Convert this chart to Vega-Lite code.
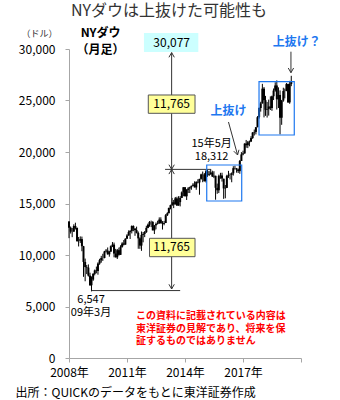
{
  "$schema": "https://vega.github.io/schema/vega-lite/v6.json",
  "width": 232,
  "height": 309,
  "autosize": "none",
  "padding": {"left": 69, "top": 49, "right": 39, "bottom": 42},
  "background": "white",
  "title": {"text": "NYダウは上抜けた可能性も", "fontSize": 16, "fontWeight": "normal", "color": "#333333", "font": "Noto Sans CJK JP", "anchor": "middle", "frame": "group", "offset": 0, "baseline": "middle", "dx": -16},
  "config": {
    "view": {"stroke": null},
    "axis": {"grid": false, "domainColor": "#a6a6a6", "tickColor": "#a6a6a6", "labelColor": "#000000", "labelFont": "Noto Sans CJK JP", "labelFontSize": 12, "titleFont": "Noto Sans CJK JP", "titleColor": "#000000", "titleFontWeight": "normal", "tickSize": 4},
    "text": {"font": "Noto Sans CJK JP"}
  },
  "layer": [
    {
      "data": {"values": [
        {"d":"2008-01-01","o":13262,"h":13279,"l":11635,"c":12650},
        {"d":"2008-02-01","o":12650,"h":12767,"l":12082,"c":12266},
        {"d":"2008-03-01","o":12266,"h":12622,"l":11731,"c":12263},
        {"d":"2008-04-01","o":12263,"h":12983,"l":12263,"c":12820},
        {"d":"2008-05-01","o":12820,"h":13136,"l":12479,"c":12638},
        {"d":"2008-06-01","o":12638,"h":12657,"l":11288,"c":11350},
        {"d":"2008-07-01","o":11350,"h":11746,"l":10827,"c":11378},
        {"d":"2008-08-01","o":11378,"h":11808,"l":11172,"c":11544},
        {"d":"2008-09-01","o":11544,"h":11790,"l":10365,"c":10851},
        {"d":"2008-10-01","o":10851,"h":10882,"l":7882,"c":9325},
        {"d":"2008-11-01","o":9325,"h":9654,"l":7449,"c":8829},
        {"d":"2008-12-01","o":8829,"h":9026,"l":8149,"c":8776},
        {"d":"2009-01-01","o":8776,"h":9088,"l":7909,"c":8001},
        {"d":"2009-02-01","o":8001,"h":8280,"l":7007,"c":7063},
        {"d":"2009-03-01","o":7063,"h":7924,"l":6470,"c":7609},
        {"d":"2009-04-01","o":7609,"h":8242,"l":7491,"c":8168},
        {"d":"2009-05-01","o":8168,"h":8588,"l":8025,"c":8500},
        {"d":"2009-06-01","o":8500,"h":8877,"l":8221,"c":8447},
        {"d":"2009-07-01","o":8447,"h":9286,"l":8087,"c":9172},
        {"d":"2009-08-01","o":9172,"h":9630,"l":9050,"c":9496},
        {"d":"2009-09-01","o":9496,"h":9917,"l":9253,"c":9712},
        {"d":"2009-10-01","o":9712,"h":10119,"l":9430,"c":9713},
        {"d":"2009-11-01","o":9713,"h":10406,"l":9678,"c":10345},
        {"d":"2009-12-01","o":10345,"h":10580,"l":10236,"c":10428},
        {"d":"2010-01-01","o":10428,"h":10730,"l":10036,"c":10067},
        {"d":"2010-02-01","o":10067,"h":10402,"l":9835,"c":10325},
        {"d":"2010-03-01","o":10325,"h":10928,"l":10301,"c":10857},
        {"d":"2010-04-01","o":10857,"h":11258,"l":10768,"c":11009},
        {"d":"2010-05-01","o":11009,"h":11205,"l":9774,"c":10137},
        {"d":"2010-06-01","o":10137,"h":10594,"l":9758,"c":9774},
        {"d":"2010-07-01","o":9774,"h":10585,"l":9614,"c":10466},
        {"d":"2010-08-01","o":10466,"h":10720,"l":9936,"c":10015},
        {"d":"2010-09-01","o":10015,"h":10948,"l":10012,"c":10788},
        {"d":"2010-10-01","o":10788,"h":11245,"l":10712,"c":11118},
        {"d":"2010-11-01","o":11118,"h":11451,"l":10929,"c":11006},
        {"d":"2010-12-01","o":11006,"h":11625,"l":11004,"c":11578},
        {"d":"2011-01-01","o":11578,"h":12020,"l":11577,"c":11892},
        {"d":"2011-02-01","o":11892,"h":12391,"l":11871,"c":12226},
        {"d":"2011-03-01","o":12226,"h":12419,"l":11555,"c":12320},
        {"d":"2011-04-01","o":12320,"h":12876,"l":12093,"c":12811},
        {"d":"2011-05-01","o":12811,"h":12877,"l":12309,"c":12570},
        {"d":"2011-06-01","o":12570,"h":12600,"l":11862,"c":12414},
        {"d":"2011-07-01","o":12414,"h":12753,"l":12093,"c":12143},
        {"d":"2011-08-01","o":12143,"h":12284,"l":10604,"c":11614},
        {"d":"2011-09-01","o":11614,"h":11717,"l":10597,"c":10913},
        {"d":"2011-10-01","o":10913,"h":12284,"l":10404,"c":11955},
        {"d":"2011-11-01","o":11955,"h":12237,"l":11231,"c":12046},
        {"d":"2011-12-01","o":12046,"h":12328,"l":11735,"c":12218},
        {"d":"2012-01-01","o":12218,"h":12842,"l":12150,"c":12633},
        {"d":"2012-02-01","o":12633,"h":13056,"l":12600,"c":12952},
        {"d":"2012-03-01","o":12952,"h":13290,"l":12742,"c":13212},
        {"d":"2012-04-01","o":13212,"h":13338,"l":12710,"c":13214},
        {"d":"2012-05-01","o":13214,"h":13280,"l":12391,"c":12393},
        {"d":"2012-06-01","o":12393,"h":12900,"l":12035,"c":12880},
        {"d":"2012-07-01","o":12880,"h":13159,"l":12492,"c":13009},
        {"d":"2012-08-01","o":13009,"h":13330,"l":12956,"c":13091},
        {"d":"2012-09-01","o":13091,"h":13653,"l":13013,"c":13437},
        {"d":"2012-10-01","o":13437,"h":13661,"l":13046,"c":13096},
        {"d":"2012-11-01","o":13096,"h":13289,"l":12471,"c":13026},
        {"d":"2012-12-01","o":13026,"h":13308,"l":12884,"c":13104},
        {"d":"2013-01-01","o":13104,"h":13970,"l":13104,"c":13861},
        {"d":"2013-02-01","o":13861,"h":14150,"l":13784,"c":14054},
        {"d":"2013-03-01","o":14054,"h":14585,"l":14054,"c":14579},
        {"d":"2013-04-01","o":14579,"h":14888,"l":14434,"c":14840},
        {"d":"2013-05-01","o":14840,"h":15542,"l":14758,"c":15116},
        {"d":"2013-06-01","o":15116,"h":15340,"l":14551,"c":14910},
        {"d":"2013-07-01","o":14910,"h":15634,"l":14910,"c":15500},
        {"d":"2013-08-01","o":15500,"h":15658,"l":14760,"c":14810},
        {"d":"2013-09-01","o":14810,"h":15710,"l":14777,"c":15130},
        {"d":"2013-10-01","o":15130,"h":15721,"l":14719,"c":15546},
        {"d":"2013-11-01","o":15546,"h":16174,"l":15544,"c":16086},
        {"d":"2013-12-01","o":16086,"h":16588,"l":15703,"c":16577},
        {"d":"2014-01-01","o":16577,"h":16588,"l":15699,"c":15699},
        {"d":"2014-02-01","o":15699,"h":16399,"l":15340,"c":16322},
        {"d":"2014-03-01","o":16322,"h":16588,"l":16016,"c":16458},
        {"d":"2014-04-01","o":16458,"h":16632,"l":16015,"c":16581},
        {"d":"2014-05-01","o":16581,"h":16736,"l":16334,"c":16717},
        {"d":"2014-06-01","o":16717,"h":16978,"l":16674,"c":16827},
        {"d":"2014-07-01","o":16827,"h":17152,"l":16558,"c":16563},
        {"d":"2014-08-01","o":16563,"h":17153,"l":16333,"c":17098},
        {"d":"2014-09-01","o":17098,"h":17350,"l":16945,"c":17043},
        {"d":"2014-10-01","o":17043,"h":17395,"l":15855,"c":17391},
        {"d":"2014-11-01","o":17391,"h":17895,"l":17312,"c":17828},
        {"d":"2014-12-01","o":17828,"h":18103,"l":17067,"c":17823},
        {"d":"2015-01-01","o":17823,"h":17951,"l":17136,"c":17165},
        {"d":"2015-02-01","o":17165,"h":18244,"l":17038,"c":18133},
        {"d":"2015-03-01","o":18133,"h":18289,"l":17586,"c":17776},
        {"d":"2015-04-01","o":17776,"h":18175,"l":17664,"c":17841},
        {"d":"2015-05-01","o":17841,"h":18351,"l":17793,"c":18011},
        {"d":"2015-06-01","o":18011,"h":18184,"l":17573,"c":17620},
        {"d":"2015-07-01","o":17620,"h":18137,"l":17465,"c":17690},
        {"d":"2015-08-01","o":17690,"h":17700,"l":15370,"c":16528},
        {"d":"2015-09-01","o":16528,"h":16933,"l":15942,"c":16285},
        {"d":"2015-10-01","o":16285,"h":17800,"l":16013,"c":17664},
        {"d":"2015-11-01","o":17664,"h":17978,"l":17400,"c":17720},
        {"d":"2015-12-01","o":17720,"h":17987,"l":17128,"c":17425},
        {"d":"2016-01-01","o":17405,"h":17405,"l":15450,"c":16466},
        {"d":"2016-02-01","o":16466,"h":16795,"l":15503,"c":16517},
        {"d":"2016-03-01","o":16517,"h":17790,"l":16511,"c":17685},
        {"d":"2016-04-01","o":17685,"h":18168,"l":17484,"c":17774},
        {"d":"2016-05-01","o":17774,"h":17934,"l":17331,"c":17787},
        {"d":"2016-06-01","o":17787,"h":18017,"l":17063,"c":17930},
        {"d":"2016-07-01","o":17930,"h":18622,"l":17713,"c":18432},
        {"d":"2016-08-01","o":18432,"h":18668,"l":18288,"c":18401},
        {"d":"2016-09-01","o":18401,"h":18450,"l":17992,"c":18308},
        {"d":"2016-10-01","o":18308,"h":18399,"l":17959,"c":18142},
        {"d":"2016-11-01","o":18142,"h":19226,"l":17884,"c":19124},
        {"d":"2016-12-01","o":19124,"h":19988,"l":19124,"c":19763},
        {"d":"2017-01-01","o":19763,"h":20126,"l":19678,"c":19864},
        {"d":"2017-02-01","o":19864,"h":20851,"l":19831,"c":20812},
        {"d":"2017-03-01","o":20812,"h":21169,"l":20412,"c":20663},
        {"d":"2017-04-01","o":20663,"h":21070,"l":20379,"c":20941},
        {"d":"2017-05-01","o":20941,"h":21113,"l":20554,"c":21009},
        {"d":"2017-06-01","o":21009,"h":21535,"l":20985,"c":21350},
        {"d":"2017-07-01","o":21350,"h":21929,"l":21280,"c":21891},
        {"d":"2017-08-01","o":21891,"h":22179,"l":21600,"c":21948},
        {"d":"2017-09-01","o":21948,"h":22420,"l":21709,"c":22405},
        {"d":"2017-10-01","o":22405,"h":23485,"l":22405,"c":23377},
        {"d":"2017-11-01","o":23377,"h":24327,"l":23243,"c":24272},
        {"d":"2017-12-01","o":24272,"h":24876,"l":23921,"c":24719},
        {"d":"2018-01-01","o":24719,"h":26617,"l":24700,"c":26149},
        {"d":"2018-02-01","o":26149,"h":26307,"l":23360,"c":25029},
        {"d":"2018-03-01","o":25029,"h":25449,"l":23509,"c":24103},
        {"d":"2018-04-01","o":24103,"h":24858,"l":23344,"c":24163},
        {"d":"2018-05-01","o":24163,"h":25087,"l":23532,"c":24416},
        {"d":"2018-06-01","o":24416,"h":25403,"l":24077,"c":24271},
        {"d":"2018-07-01","o":24271,"h":25475,"l":23997,"c":25415},
        {"d":"2018-08-01","o":25415,"h":26167,"l":25044,"c":25965},
        {"d":"2018-09-01","o":25965,"h":26770,"l":25856,"c":26458},
        {"d":"2018-10-01","o":26458,"h":26951,"l":24122,"c":25116},
        {"d":"2018-11-01","o":25116,"h":26277,"l":24268,"c":25538},
        {"d":"2018-12-01","o":25538,"h":25980,"l":21713,"c":23327},
        {"d":"2019-01-01","o":23327,"h":25057,"l":22639,"c":24999},
        {"d":"2019-02-01","o":24999,"h":26241,"l":24883,"c":25916},
        {"d":"2019-03-01","o":25916,"h":26156,"l":25208,"c":25929},
        {"d":"2019-04-01","o":25929,"h":26696,"l":25900,"c":26593},
        {"d":"2019-05-01","o":26593,"h":26640,"l":24781,"c":24815},
        {"d":"2019-06-01","o":24815,"h":26907,"l":24680,"c":26600},
        {"d":"2019-07-01","o":26600,"h":27398,"l":26390,"c":26864}
      ]},
      "layer": [
        {
          "mark": {"type": "rule", "color": "#000000", "strokeWidth": 1},
          "encoding": {
            "x": {"field": "d", "type": "temporal",
              "scale": {"domain": [{"year": 2008, "month": 1, "date": 1}, {"year": 2020, "month": 1, "date": 1}]},
              "axis": {"title": "出所：QUICKのデータをもとに東洋証券作成", "titleX": -54, "titleY": 34, "titleAlign": "left", "titleBaseline": "middle", "titleFontSize": 12,
                "values": [{"year": 2008, "month": 1, "date": 1}, {"year": 2011, "month": 1, "date": 1}, {"year": 2014, "month": 1, "date": 1}, {"year": 2017, "month": 1, "date": 1}, {"year": 2020, "month": 1, "date": 1}],
                "labelExpr": "year(datum.value) == 2020 ? '' : timeFormat(datum.value, '%Y') + '年'",
                "labelPadding": 5, "labelFlush": false, "labelOverlap": false}},
            "y": {"field": "l", "type": "quantitative",
              "scale": {"domain": [0, 30000], "nice": false, "zero": true},
              "axis": {"title": "（ドル）", "titleAngle": 0, "titleX": -30, "titleY": -16, "titleAlign": "center", "titleBaseline": "middle", "titleFontSize": 9, "titleColor": "#333333",
                "values": [0, 5000, 10000, 15000, 20000, 25000, 30000], "labelExpr": "format(datum.value, ',')", "labelPadding": 10}},
            "y2": {"field": "h"}
          }
        },
        {
          "mark": {"type": "rule", "color": "#000000", "strokeWidth": 2},
          "encoding": {
            "x": {"field": "d", "type": "temporal"},
            "y": {"field": "o", "type": "quantitative"},
            "y2": {"field": "c"}
          }
        }
      ]
    },
    {
      "data": {"values": [
        {"d": "2013-04-23", "d2": "2013-04-23", "v": 6700, "v2": 29650},
        {"d": "2012-12-20", "d2": "2015-05-01", "v": 18312, "v2": 18312},
        {"d": "2009-03-01", "d2": "2013-10-01", "v": 6547, "v2": 6547},
        {"d": "2016-04-01", "d2": "2016-09-20", "v": 22913, "v2": 19709},
        {"d": "2019-06-25", "d2": "2019-06-25", "v": 29738, "v2": 27700}
      ]},
      "mark": {"type": "rule", "color": "#333333", "strokeWidth": 1},
      "encoding": {
        "x": {"field": "d", "type": "temporal"},
        "x2": {"field": "d2"},
        "y": {"field": "v", "type": "quantitative"},
        "y2": {"field": "v2"}
      }
    },
    {
      "data": {"values": [
        {"d": "2015-02-15", "d2": "2016-12-07", "v": 15243, "v2": 18738},
        {"d": "2017-10-30", "d2": "2019-08-27", "v": 21650, "v2": 26825}
      ]},
      "mark": {"type": "rect", "fill": null, "fillOpacity": 0, "stroke": "#1e78f0", "strokeWidth": 1.2},
      "encoding": {
        "x": {"field": "d", "type": "temporal"},
        "x2": {"field": "d2"},
        "y": {"field": "v", "type": "quantitative"},
        "y2": {"field": "v2"}
      }
    },
    {
      "data": {"values": [
        {"d": "2011-11-17", "d2": "2014-09-09", "v": 29700, "v2": 31550}
      ]},
      "mark": {"type": "rect", "fill": "#ccffff"},
      "encoding": {
        "x": {"field": "d", "type": "temporal"},
        "x2": {"field": "d2"},
        "y": {"field": "v", "type": "quantitative"},
        "y2": {"field": "v2"}
      }
    },
    {
      "data": {"values": [
        {"d": "2012-02-07", "d2": "2014-07-09", "v": 23757, "v2": 25534},
        {"d": "2012-03-01", "d2": "2014-07-09", "v": 9835, "v2": 11621}
      ]},
      "mark": {"type": "rect", "fill": "#ffff99", "stroke": "#555555", "strokeWidth": 1},
      "encoding": {
        "x": {"field": "d", "type": "temporal"},
        "x2": {"field": "d2"},
        "y": {"field": "v", "type": "quantitative"},
        "y2": {"field": "v2"}
      }
    },
    {
      "data": {"values": [
        {"d": "2013-04-23", "v": 29650, "dir": "up"},
        {"d": "2013-04-23", "v": 18312, "dir": "down"},
        {"d": "2013-04-23", "v": 18312, "dir": "up"},
        {"d": "2013-04-23", "v": 6700, "dir": "down"},
        {"d": "2016-09-20", "v": 19709, "dir": "downright"},
        {"d": "2019-06-25", "v": 27700, "dir": "down"}
      ]},
      "mark": {"type": "point", "filled": false, "stroke": "#333333", "strokeWidth": 1, "size": 45, "opacity": 1},
      "encoding": {
        "x": {"field": "d", "type": "temporal"},
        "y": {"field": "v", "type": "quantitative"},
        "shape": {"field": "dir", "type": "nominal", "legend": null,
          "scale": {"domain": ["up", "down", "downright"], "range": ["M-0.8,1.4L0,0L0.8,1.4", "M-0.8,-1.4L0,0L0.8,-1.4", "M-1.135,-1.145L0,0L0.411,-1.559"]}}
      }
    },
    {
      "data": {"values": [
        {"d": "2013-04-23", "v": 30600, "t": "30,077"},
        {"d": "2013-04-23", "v": 24650, "t": "11,765"},
        {"d": "2013-04-23", "v": 10730, "t": "11,765"}
      ]},
      "mark": {"type": "text", "fontSize": 12, "color": "#000000", "align": "center", "baseline": "middle"},
      "encoding": {
        "x": {"field": "d", "type": "temporal"},
        "y": {"field": "v", "type": "quantitative"},
        "text": {"field": "t"}
      }
    },
    {
      "data": {"values": [
        {"d": "2015-05-18", "v": 20730, "t": "15年5月"},
        {"d": "2015-05-18", "v": 19500, "t": "18,312"},
        {"d": "2009-02-20", "v": 5600, "t": "6,547"},
        {"d": "2009-02-20", "v": 4360, "t": "09年3月"}
      ]},
      "mark": {"type": "text", "fontSize": 11, "color": "#000000", "align": "center", "baseline": "middle"},
      "encoding": {
        "x": {"field": "d", "type": "temporal"},
        "y": {"field": "v", "type": "quantitative"},
        "text": {"field": "t"}
      }
    },
    {
      "data": {"values": [
        {"d": "2009-08-20", "v": 31550, "t": "NYダウ"},
        {"d": "2009-08-20", "v": 29900, "t": "（月足）"}
      ]},
      "mark": {"type": "text", "fontSize": 12, "fontWeight": "bold", "color": "#000000", "align": "center", "baseline": "middle"},
      "encoding": {
        "x": {"field": "d", "type": "temporal"},
        "y": {"field": "v", "type": "quantitative"},
        "text": {"field": "t"}
      }
    },
    {
      "data": {"values": [
        {"d": "2016-04-01", "v": 23981, "t": "上抜け"},
        {"d": "2019-10-12", "v": 30710, "t": "上抜け？"}
      ]},
      "mark": {"type": "text", "fontSize": 12, "fontWeight": "bold", "color": "#1e78f0", "align": "center", "baseline": "middle"},
      "encoding": {
        "x": {"field": "d", "type": "temporal"},
        "y": {"field": "v", "type": "quantitative"},
        "text": {"field": "t"}
      }
    },
    {
      "data": {"values": [
        {"d": "2011-06-20", "v": 4060, "t": "この資料に記載されている内容は"},
        {"d": "2011-06-20", "v": 2850, "t": "東洋証券の見解であり、将来を保"},
        {"d": "2011-06-20", "v": 1640, "t": "証するものではありません"}
      ]},
      "mark": {"type": "text", "fontSize": 10, "fontWeight": "bold", "color": "#ff0000", "align": "left", "baseline": "middle"},
      "encoding": {
        "x": {"field": "d", "type": "temporal"},
        "y": {"field": "v", "type": "quantitative"},
        "text": {"field": "t"}
      }
    }
  ]
}
